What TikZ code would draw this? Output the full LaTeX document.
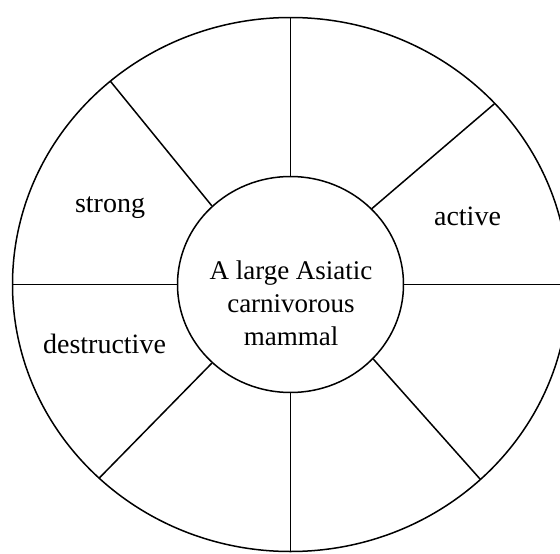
\documentclass[tikz,border=0pt]{standalone}
\usepackage{fontspec}
\setmainfont{Liberation Serif}
\usetikzlibrary{shapes.geometric,calc}
\begin{document}
\begin{tikzpicture}[x=1pt,y=-1pt,
  rim/.style={line width=1.5pt},
  spoke/.style={line width=1.5pt},
  lbl/.style={font=\fontsize{27}{33}\selectfont, inner sep=0pt, anchor=base},
  side/.style={font=\fontsize{28}{33}\selectfont, inner sep=0pt, anchor=base},
  core/.style={draw, ellipse, line width=1.5pt, minimum width=226pt, minimum height=216pt, inner sep=0pt}]
\useasboundingbox (0,0) rectangle (560,554);
\clip (0,0) rectangle (560,554);
\fill[white] (0,0) rectangle (560,554);
\coordinate (c) at (290.5,284.5);
\draw[rim] (c) ellipse [x radius=278pt, y radius=267pt];
\node[core] (hub) at (c) {};
% outer ends of spokes
\coordinate (o90)  at ($(c)+(90:278pt and 267pt)$);
\coordinate (o270) at ($(c)+(270:278pt and 267pt)$);
\coordinate (o180) at ($(c)+(180:278pt and 267pt)$);
\coordinate (o0)   at ($(c)+(0:278pt and 267pt)$);
\coordinate (oUL)  at ($(c)+(130.4:278pt and 267pt)$);
\coordinate (oUR)  at ($(c)+(42.7:278pt and 267pt)$);
\coordinate (oLL)  at ($(c)+(226.5:278pt and 267pt)$);
\coordinate (oLR)  at ($(c)+(313.1:278pt and 267pt)$);
\draw[spoke] (hub.90) -- (o90);
\draw[spoke] (hub.270) -- (o270);
\draw[spoke] (hub.180) -- (o180);
\draw[spoke] (hub.0) -- (o0);
\draw[spoke] (hub.135) -- (oUL);
\draw[spoke] (hub.43.6) -- (oUR);
\draw[spoke] (hub.225) -- (oLL);
\draw[spoke] (hub.318) -- (oLR);
\node[lbl] (t1) at (291,279) {A large Asiatic};
\node[lbl] (t2) at (291,312) {carnivorous};
\node[lbl] (t3) at (291,345) {mammal};
\node[side] (strong) at (110,212) {strong};
\node[side] (active) at (467.5,225.5) {active};
\node[side] (destr) at (104.5,353) {destructive};
\end{tikzpicture}
\end{document}
